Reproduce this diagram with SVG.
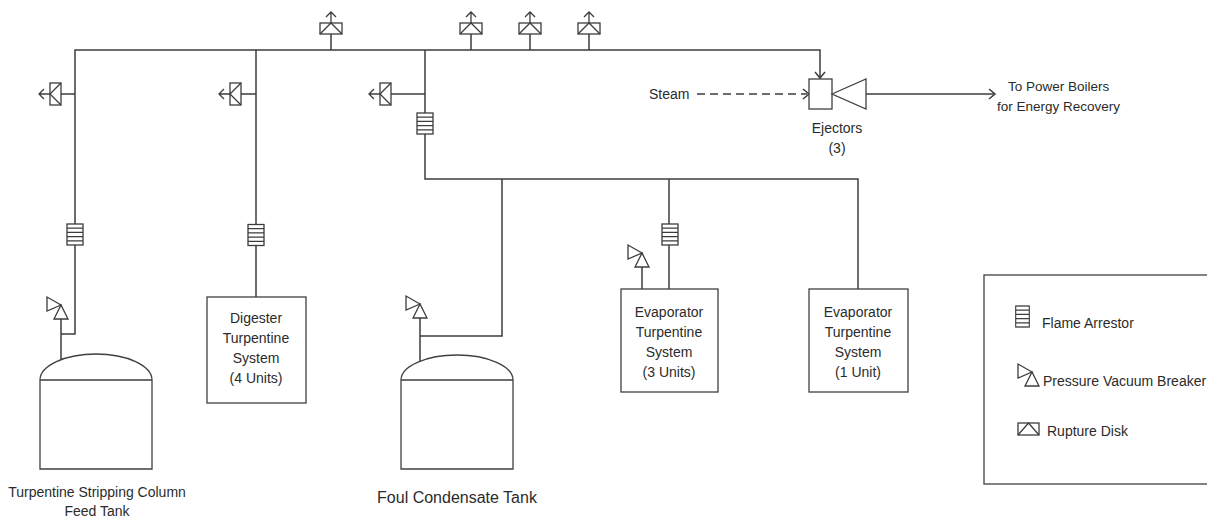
<svg xmlns="http://www.w3.org/2000/svg" width="1207" height="519" viewBox="0 0 1207 519">
<style>
.ln{fill:none;stroke:#3c3c3c;stroke-width:1.5;stroke-linejoin:miter}
.sym{fill:#fff;stroke:#3c3c3c;stroke-width:1.3}
.sl{fill:none;stroke:#3c3c3c;stroke-width:1.3}
.box{fill:#fff;stroke:#404040;stroke-width:1.3}
text{font-family:"Liberation Sans",Arial,sans-serif;font-size:14px;fill:#2b2b2b}
.c{text-anchor:middle}
</style>
<defs>
<g id="fa">
<rect class="sym" x="-8" y="-10.5" width="16" height="21"/>
<path class="sl" d="M-8,-6.3H8M-8,-2.1H8M-8,2.1H8M-8,6.3H8"/>
</g>
<g id="pvb">
<path class="sym" d="M0,0L-7,14H7Z"/>
<path class="sym" d="M0,0L-14,-8L-14,6Z"/>
</g>
<g id="rd">
<rect class="sym" x="-11" y="-11" width="22" height="11"/>
<path class="sl" d="M-11,0L0,-11L11,0"/>
<path class="sl" d="M0,-11V-22M-5,-17L0,-22L5,-17"/>
</g>
</defs>

<g id="connectors">
<path class="ln" d="M61,334H75V50H820V78"/>
<path class="ln" d="M815,72L820,78L825,72"/>
<path class="ln" d="M256,50V297"/>
<path class="ln" d="M425,50V179H858V289"/>
<path class="ln" d="M502,179V336H420"/>
<path class="ln" d="M420,361V318"/>
<path class="ln" d="M61,360V318"/>
<path class="ln" d="M669,179V289"/>
<path class="ln" d="M642,289V266"/>
<path class="ln" d="M331,34V50M471,34V50M530,34V50M589,34V50"/>
<path class="ln" d="M61,94H75M241,94H256M391,94H425"/>
<path class="ln" d="M697,94H807" stroke-dasharray="8,5"/>
<path class="ln" d="M803,89L809,94L803,99"/>
<path class="ln" d="M866,94H995"/>
<path class="ln" d="M989,89L995,94L989,99"/>
</g>

<g id="rupture-disks">
<use href="#rd" transform="translate(331,34)"/>
<use href="#rd" transform="translate(471,34)"/>
<use href="#rd" transform="translate(530,34)"/>
<use href="#rd" transform="translate(589,34)"/>
<use href="#rd" transform="translate(61,94) rotate(-90)"/>
<use href="#rd" transform="translate(241,94) rotate(-90)"/>
<use href="#rd" transform="translate(391,94) rotate(-90)"/>
</g>

<g id="flame-arrestors">
<use href="#fa" transform="translate(75,234.5)"/>
<use href="#fa" transform="translate(256,235)"/>
<use href="#fa" transform="translate(425,123.5)"/>
<use href="#fa" transform="translate(670,234.5)"/>
</g>

<g id="pressure-vacuum-breakers">
<use href="#pvb" transform="translate(61,305)"/>
<use href="#pvb" transform="translate(420,304)"/>
<use href="#pvb" transform="translate(642,253)"/>
</g>

<g id="ejector">
<rect class="box" x="809" y="79" width="23" height="30"/>
<path class="box" d="M832,94L866,79V109Z"/>
<text class="c" x="837" y="133">Ejectors</text>
<text class="c" x="837" y="153">(3)</text>
</g>

<g id="steam">
<text x="649" y="99">Steam</text>
</g>

<g id="power-boilers">
<text x="1008" y="91" style="font-size:13.5px">To Power Boilers</text>
<text x="997" y="111" style="font-size:13.5px">for Energy Recovery</text>
</g>

<g id="feed-tank">
<path class="box" d="M40,380A56,26 0 0 1 152,380V469H40Z"/>
<path class="sl" d="M40,380H152"/>
<text class="c" x="97" y="497">Turpentine Stripping Column</text>
<text class="c" x="97" y="516">Feed Tank</text>
</g>

<g id="foul-condensate-tank">
<path class="box" d="M401,380A56,25 0 0 1 513,380V469H401Z"/>
<path class="sl" d="M401,380H513"/>
<text class="c" x="457" y="503" style="font-size:16px">Foul Condensate Tank</text>
</g>

<g id="digester">
<rect class="box" x="207" y="297" width="99" height="106"/>
<text class="c" x="256" y="323">Digester</text>
<text class="c" x="256" y="343">Turpentine</text>
<text class="c" x="256" y="363">System</text>
<text class="c" x="256" y="383">(4 Units)</text>
</g>

<g id="evaporator-3">
<rect class="box" x="621" y="289" width="97" height="103"/>
<text class="c" x="669" y="317">Evaporator</text>
<text class="c" x="669" y="337">Turpentine</text>
<text class="c" x="669" y="357">System</text>
<text class="c" x="669" y="377">(3 Units)</text>
</g>

<g id="evaporator-1">
<rect class="box" x="809" y="289" width="99" height="103"/>
<text class="c" x="858" y="317">Evaporator</text>
<text class="c" x="858" y="337">Turpentine</text>
<text class="c" x="858" y="357">System</text>
<text class="c" x="858" y="377">(1 Unit)</text>
</g>

<g id="legend">
<rect class="box" x="984" y="275" width="240" height="209"/>
<g transform="translate(1022.5,316.5) scale(0.85,1)"><use href="#fa"/></g>
<text x="1042" y="328">Flame Arrestor</text>
<use href="#pvb" transform="translate(1032,372)"/>
<text x="1043" y="386">Pressure Vacuum Breaker</text>
<rect class="sym" x="1018" y="423" width="21" height="12"/>
<path class="sl" d="M1018,435L1028.5,423L1039,435"/>
<text x="1047" y="436">Rupture Disk</text>
</g>
</svg>
